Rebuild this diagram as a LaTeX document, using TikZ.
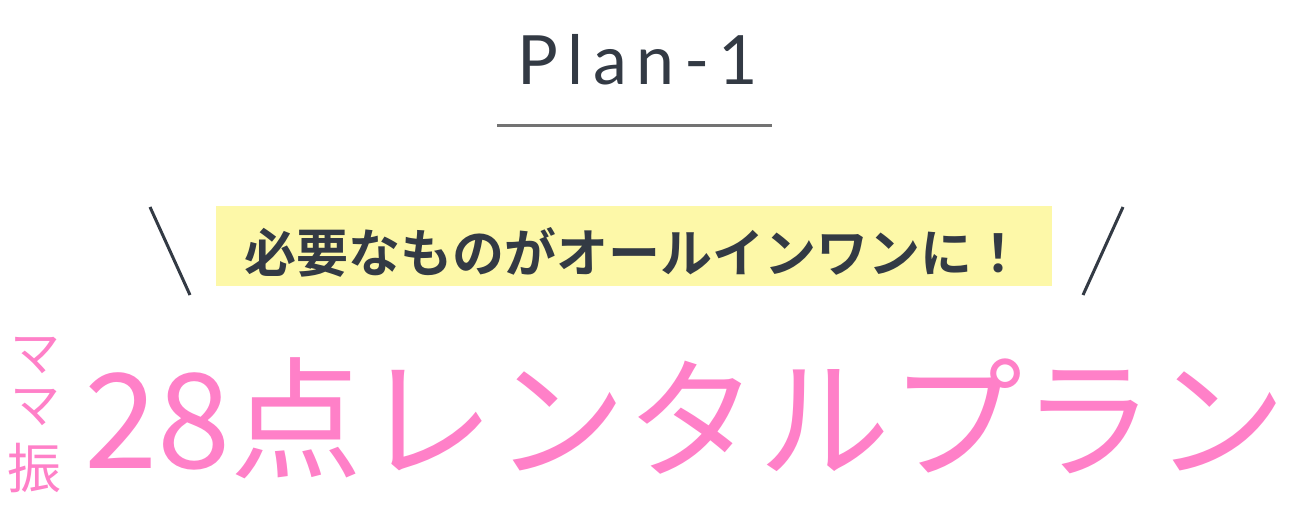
\documentclass[tikz,border=0pt]{standalone}
\usepackage{fontspec}
\setmainfont{Lato}
\newfontfamily\cjk{Noto Sans CJK JP}
\newfontfamily\cjkb{Noto Sans CJK JP Bold}
\definecolor{ink}{HTML}{333A44}
\definecolor{pinkc}{HTML}{FF80C8}
\definecolor{yel}{HTML}{FDF8A8}
\begin{document}
\begin{tikzpicture}[x=1pt,y=-1pt,
  txt/.style={inner sep=0pt,anchor=center}]
\useasboundingbox (0,0) rectangle (1300,508);
\node[txt,text=ink,font=\fontsize{68}{72}\selectfont\addfontfeatures{LetterSpace=14}] (plan) at (638,60) {Plan-1};
\coordinate (ul1) at (497,126); \coordinate (ul2) at (772,126);
\draw[line width=3pt,color=black!55] (ul1) -- (ul2);
\node[fill=yel,minimum width=836pt,minimum height=80pt,inner sep=0pt] (box) at (634,246) {};
\node[txt,text=ink,font=\cjkb\fontsize{52}{56}\selectfont] (msg) at (634,252) {必要なものがオールインワンに！};
\coordinate (a1) at (150,207); \coordinate (a2) at (190,295);
\coordinate (b1) at (1123,207); \coordinate (b2) at (1083,295);
\draw[line width=3pt,ink] (a1) -- (a2);
\draw[line width=3pt,ink] (b1) -- (b2);
\node[txt,text=pinkc,font=\cjk\fontsize{50}{54}\selectfont] (m1) at (35,355) {マ};
\node[txt,text=pinkc,font=\cjk\fontsize{50}{54}\selectfont] (m2) at (35,407) {マ};
\node[txt,text=pinkc,font=\cjk\fontsize{54}{58}\selectfont] (m3) at (35,468) {振};
\node[txt,anchor=west,text=pinkc,font=\cjk\fontsize{132}{136}\selectfont] (main) at (84,418) {28点レンタルプラン};
\end{tikzpicture}
\end{document}
